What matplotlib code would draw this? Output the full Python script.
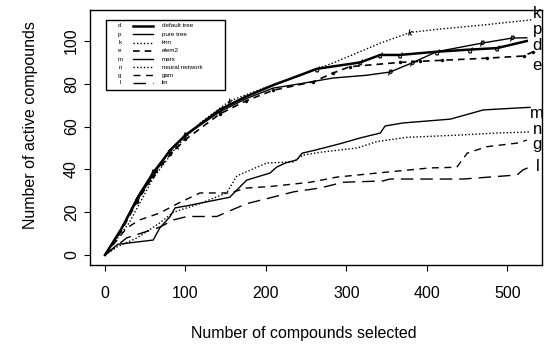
import matplotlib.pyplot as plt
from matplotlib.lines import Line2D
from matplotlib.patches import Rectangle

plt.rcParams["font.family"] = ["Liberation Sans", "DejaVu Sans"]

# fast-rising methods
d_x = [0, 20, 40, 60, 81, 100, 143, 175, 209, 242, 263, 317, 342, 366, 412, 453, 487, 524]
d_y = [0, 12, 26, 38, 49, 56, 68, 74, 79.4, 84, 87, 90, 93.5, 93.5, 95, 96, 96.7, 100]
p_x = [0, 20, 40, 60, 81, 100, 143, 175, 209, 242, 283, 325, 354, 381, 412, 468, 506, 524]
p_y = [0, 12, 27, 39, 49, 56, 67, 73, 78, 80, 82.7, 84, 85.5, 89.7, 95, 99, 101.4, 101.5]
k_x = [0, 30, 60, 90, 118, 155, 201, 242, 283, 342, 379, 416, 470, 532]
k_y = [0, 15, 36, 51, 61.7, 72, 78.5, 84, 89.7, 99, 104, 105.6, 107.5, 110]
e_x = [0, 20, 40, 60, 81, 100, 143, 175, 209, 259, 283, 304, 366, 391, 419, 475, 520, 532]
e_y = [0, 11, 25, 37, 47, 54, 66, 72, 77, 81, 85, 88, 90, 90.5, 91, 92, 93, 95]

# slow-rising methods
m_x = [0, 16, 60, 68, 81, 87, 102, 155, 176, 205, 213, 224, 238, 245, 261, 292, 317, 342,
       348, 370, 429, 470, 512, 528]
m_y = [0, 5, 7, 12.6, 18, 22, 23, 27, 35, 38.3, 41, 43, 44.4, 47.6, 49, 52, 54.7, 57,
       60.3, 61.7, 63.5, 67.8, 68.7, 69]
n_x = [0, 16, 40, 68, 85, 118, 151, 164, 201, 234, 246, 267, 313, 338, 375, 437, 487, 528]
n_y = [0, 4, 8, 15, 20, 24, 29, 37, 43, 43.5, 46.7, 48, 50, 53, 55, 56, 57, 57.5]
g_x = [0, 27, 43, 68, 90, 118, 155, 176, 205, 255, 288, 338, 404, 437, 450, 474, 512, 524]
g_y = [0, 12.6, 16.4, 19.6, 24, 29, 29, 31.3, 32, 34, 36.4, 38.3, 40.7, 41, 47.6, 50.6, 52.3, 53.7]
l_x = [0, 27, 68, 85, 102, 139, 151, 176, 205, 234, 267, 296, 345, 354, 445, 512, 519, 525]
l_y = [0, 8, 13, 16.4, 18, 18, 20, 24, 26.7, 29.5, 31.3, 34, 34.6, 35.5, 35.5, 37.4, 39.7, 40.7]

codes = ["d", "p", "k", "e", "m", "n", "g", "l"]
names = ["default tree", "pure tree", "knn", "elem2", "mars", "neural network", "gam", "lm"]
end_label_y = [98.0, 105.5, 113.0, 88.5, 66.0, 58.5, 51.5, 41.5]

series = [(d_x, d_y), (p_x, p_y), (k_x, k_y), (e_x, e_y),
          (m_x, m_y), (n_x, n_y), (g_x, g_y), (l_x, l_y)]
styles = [
    dict(ls="-", lw=1.8, marker="$d$", ms=4, markevery=[2, 4, 6, 10, 11, 12, 13, 14, 15, 16]),
    dict(ls="-", lw=1.0, marker="$p$", ms=4, markevery=[3, 5, 12, 13, 15, 16]),
    dict(ls=(0, (1, 1.5)), lw=1.0, marker="$k$", ms=4, markevery=[3, 5, 10]),
    dict(ls=(0, (4, 3)), lw=1.2, marker="o", ms=2.2, markevery=list(range(2, 18))),
    dict(ls="-", lw=1.0),
    dict(ls=(0, (1, 1.5)), lw=1.0),
    dict(ls=(0, (5, 4)), lw=1.0),
    dict(ls=(0, (9, 5)), lw=1.0),
]

fig = plt.figure(figsize=(5.46, 3.47), dpi=100)
ax = fig.add_axes([90 / 546, 82 / 347, 452 / 546, 255 / 347])

for (xs, ys), st in zip(series, styles):
    ax.plot(xs, ys, color="black", mfc="black", mec="black", mew=0.3, **st)

for code, yy in zip(codes, end_label_y):
    ax.text(537, yy, code, fontsize=12, ha="center", va="center")

ax.set_xlim(-18.6, 542.9)
ax.set_ylim(-4.67, 114.5)
ax.set_xticks([0, 100, 200, 300, 400, 500])
ax.set_yticks([0, 20, 40, 60, 80, 100])
ax.tick_params(direction="out", length=4, width=0.8, labelsize=11.5)
ax.tick_params(axis="x", pad=11)
ax.tick_params(axis="y", pad=4, labelrotation=90)
for lab in ax.get_yticklabels():
    lab.set_va("center")
for sp in ax.spines.values():
    sp.set_linewidth(1.0)

ax.set_xlabel("Number of compounds selected", fontsize=11.5)
ax.set_ylabel("Number of active compounds", fontsize=11.5)
ax.xaxis.set_label_coords(0.473, -0.239)
ax.yaxis.set_label_coords(-0.115, 0.55)

# legend box, R style
ax.add_patch(Rectangle((0.035, 0.686), 0.264, 0.275, transform=ax.transAxes,
                       fill=False, lw=1.0, color="black"))
row_y = [0.938, 0.905, 0.872, 0.840, 0.807, 0.775, 0.744, 0.715]
for code, name, st, yy in zip(codes, names, styles, row_y):
    ax.text(0.066, yy, code, fontsize=4.5, ha="center", va="center", transform=ax.transAxes)
    ax.add_line(Line2D([0.095, 0.139], [yy, yy], transform=ax.transAxes, color="black",
                       ls=st["ls"], lw=st["lw"]))
    ax.text(0.159, yy, name, fontsize=4.5, ha="left", va="center", transform=ax.transAxes)

fig.savefig("out.png", dpi=100)
